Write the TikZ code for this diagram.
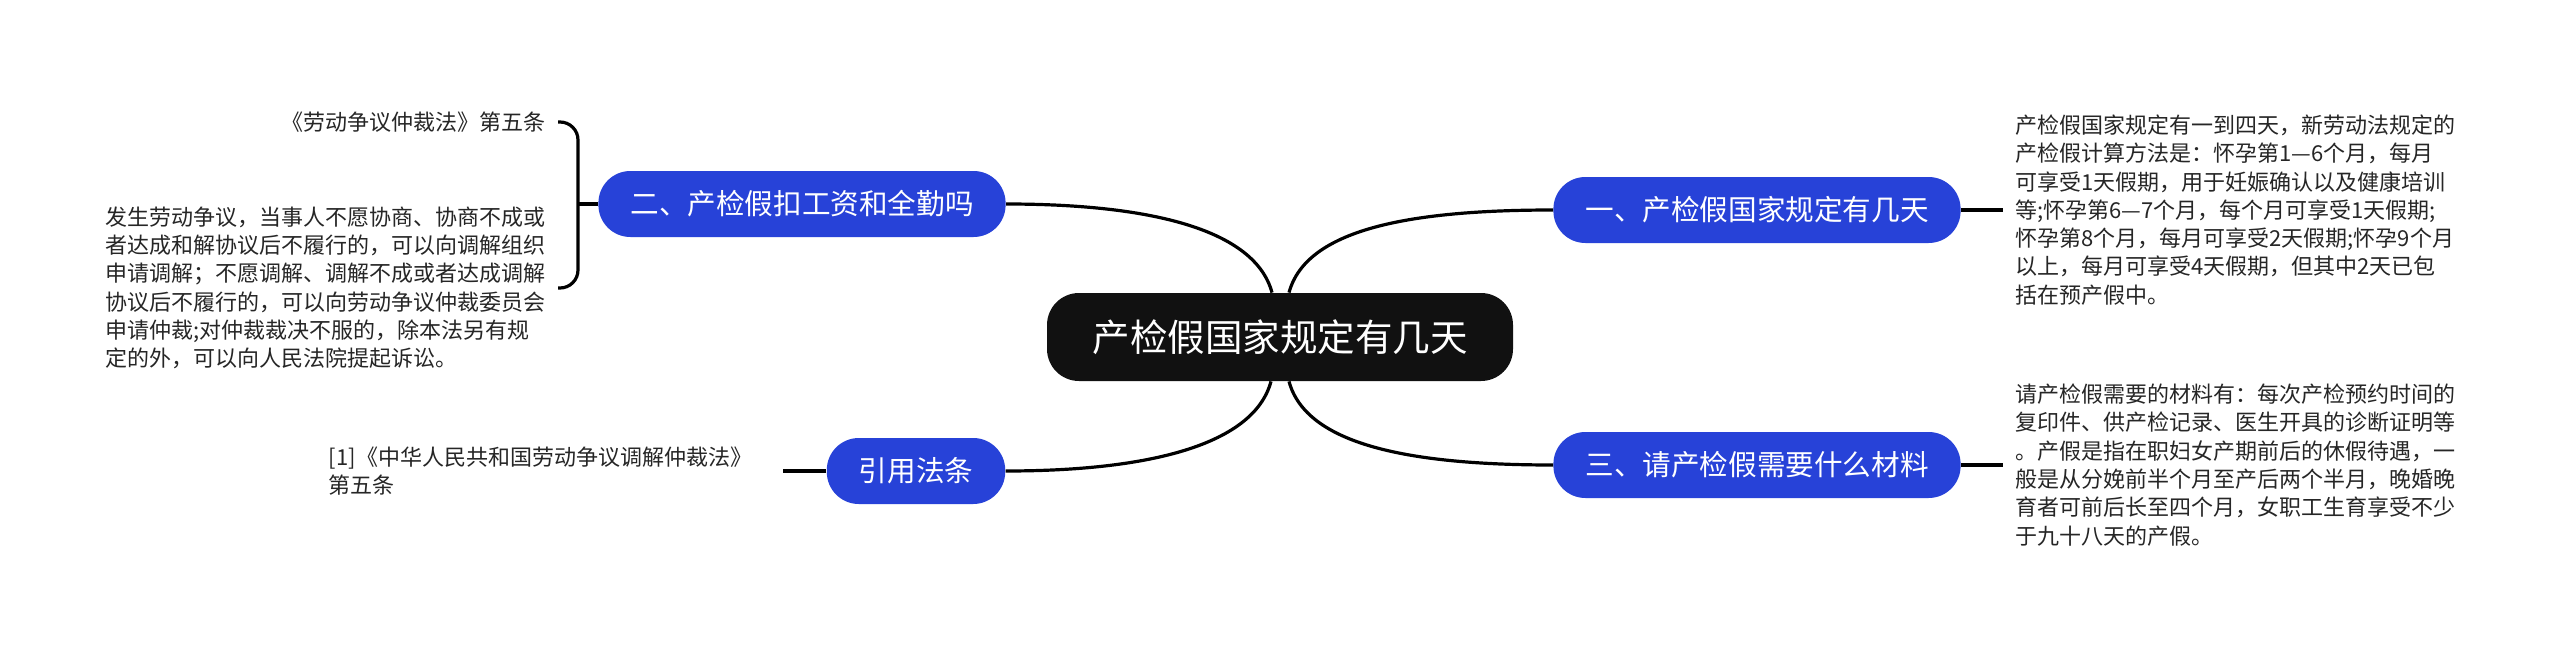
\documentclass[tikz,border=0pt]{standalone}
\usepackage{fontspec}
\setmainfont{Noto Sans CJK SC}
\usepackage{xcolor}
\usepackage{tikz}
\usetikzlibrary{positioning}

\definecolor{mapblue}{HTML}{2742D8}
\definecolor{mapdark}{HTML}{111111}
\definecolor{notetext}{HTML}{262626}

\begin{document}
\begin{tikzpicture}[
  x=0.5pt,y=0.5pt,
  root/.style={fill=mapdark,text=white,rounded corners=16pt,minimum height=44pt,inner xsep=22.75pt,inner ysep=0pt,font=\fontsize{18.75}{22}\selectfont},
  topic/.style={fill=mapblue,text=white,rounded corners=16pt,minimum height=33pt,inner xsep=16pt,inner ysep=0pt,font=\fontsize{14.3}{17}\selectfont},
  note/.style={align=left,text=notetext,inner xsep=6pt,inner ysep=0pt,font=\fontsize{11}{14.15}\selectfont},
  link/.style={line width=1.6pt,black}
]
\fill[white] (0,0) rectangle (2560,655);
\useasboundingbox (0,0) rectangle (2560,655);

\node[root] (root) at (1280,318) {产检假国家规定有几天};
\node[topic] (b1) at (1757,445) {一、产检假国家规定有几天};
\node[topic] (b2) at (802,451) {二、产检假扣工资和全勤吗};
\node[topic] (b3) at (1757,190) {三、请产检假需要什么材料};
\node[topic] (b4) at (916,184) {引用法条};

\node[note,right=21pt of b1] (t1) {产检假国家规定有一到四天，新劳动法规定的\\产检假计算方法是：怀孕第1—6个月，每月\\可享受1天假期，用于妊娠确认以及健康培训\\等;怀孕第6—7个月，每个月可享受1天假期;\\怀孕第8个月，每月可享受2天假期;怀孕9个月\\以上，每月可享受4天假期，但其中2天已包\\括在预产假中。};
\node[note,right=21pt of b3] (t3) {请产检假需要的材料有：每次产检预约时间的\\复印件、供产检记录、医生开具的诊断证明等\\。产假是指在职妇女产期前后的休假待遇，一\\般是从分娩前半个月至产后两个半月，晚婚晚\\育者可前后长至四个月，女职工生育享受不少\\于九十八天的产假。};
\node[note,left=21.5pt of b4,inner xsep=15.5pt] (t4) {[1]《中华人民共和国劳动争议调解仲裁法》\\第五条};
\node[note,anchor=east] (t2a) at (558,533) {《劳动争议仲裁法》第五条};
\node[note,anchor=east] (t2b) at (558,367) {发生劳动争议，当事人不愿协商、协商不成或\\者达成和解协议后不履行的，可以向调解组织\\申请调解；不愿调解、调解不成或者达成调解\\协议后不履行的，可以向劳动争议仲裁委员会\\申请仲裁;对仲裁裁决不服的，除本法另有规\\定的外，可以向人民法院提起诉讼。};
\coordinate (fork) at (578,451);

\draw[link] (b2.east) .. controls +(145,0) and +(-17,63) .. ([xshift=-4pt]root.north);
\draw[link] (b1.west) .. controls +(-145,0) and +(17,63) .. ([xshift=4.5pt]root.north);
\draw[link] (b4.east) .. controls +(145,0) and +(-17,-63) .. ([xshift=-4.5pt]root.south);
\draw[link] (b3.west) .. controls +(-145,0) and +(17,-63) .. ([xshift=4.5pt]root.south);
\draw[link] (b1.east) -- (t1.west);
\draw[link] (b3.east) -- (t3.west);
\draw[link] (b4.west) -- (t4.east);
\draw[link,rounded corners=9pt] (t2a.east) -| (fork) |- (t2b.east);
\draw[link] (fork) -- (b2.west);
\end{tikzpicture}
\end{document}
